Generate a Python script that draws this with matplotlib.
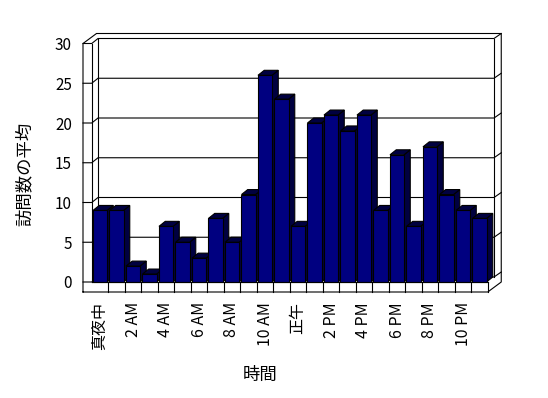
import matplotlib
matplotlib.use("Agg")
import matplotlib.pyplot as plt
from matplotlib.patches import Polygon

# ---- data ----
hours = list(range(24))
visits = [9, 9, 2, 1, 7, 5, 3, 8, 5, 11, 26, 23, 7, 20, 21, 19, 21, 9, 16, 7, 17, 11, 9, 8]
tick_pos = [0, 2, 4, 6, 8, 10, 12, 14, 16, 18, 20, 22]
tick_labels = ["真夜中", "2 AM", "4 AM", "6 AM", "8 AM", "10 AM",
               "正午", "2 PM", "4 PM", "6 PM", "8 PM", "10 PM"]
y_ticks = [0, 5, 10, 15, 20, 25, 30]
y_label = "訪問数の平均"
x_label = "時間"

plt.rcParams['font.family'] = ['Noto Sans CJK JP', 'DejaVu Sans']

W, H, DPI = 548, 398, 100
PX_X = 16.5     # pixels per category
PX_Y = 7.95     # pixels per value unit
X0_PX, Y0_PX = 100, 282
xlim = (-1.2, 24.6)
ylim = (-2.0, 31.8)

left_px = X0_PX + PX_X * xlim[0]
right_px = X0_PX + PX_X * xlim[1]
top_px = Y0_PX - PX_Y * ylim[1]
bot_px = Y0_PX - PX_Y * ylim[0]

fig = plt.figure(figsize=(W / DPI, H / DPI), dpi=DPI)
fig.patch.set_facecolor('white')
ax = fig.add_axes([left_px / W, 1 - bot_px / H,
                   (right_px - left_px) / W, (bot_px - top_px) / H])
ax.set_xlim(xlim)
ax.set_ylim(ylim)
for s in ax.spines.values():
    s.set_visible(False)

# 3D geometry (data units)
bw = 0.85
d1x, d1y = 6.25 / PX_X, 5 / PX_Y        # depth to back wall face
d2x, d2y = 13.5 / PX_X, 10 / PX_Y       # depth to outer back
xa, xb = -0.5, len(hours) - 0.5
xw = xa - 8.75 / PX_X
ymax = y_ticks[-1]
slab = -10 / PX_Y
lk = dict(color='black', lw=0.8, solid_joinstyle='miter')

# gridlines along left wall and back wall
for v in y_ticks:
    ax.plot([xw, xa, xa + d1x, xb + d1x, xb + d2x],
            [v, v, v + d1y, v + d1y, v + d2y], zorder=1, **lk)

# outer frame
ax.plot([xw, xw, xw + d2x, xb + d2x, xb + d2x, xb, xw],
        [slab, ymax, ymax + d2y, ymax + d2y, slab + d2y, slab, slab], zorder=1, **lk)
ax.plot([xa, xa], [0, ymax], zorder=1, **lk)
ax.plot([xa + d1x, xa + d1x], [d1y, ymax + d1y], zorder=1, **lk)
ax.plot([xb + d1x, xb + d1x], [d1y, ymax + d1y], zorder=1, **lk)
ax.plot([xb, xb], [0, slab], zorder=4, **lk)
for i in hours[:-1]:
    ax.plot([i + 0.5, i + 0.5], [0, slab], zorder=4, **lk)

# bars: side and top faces
dark = '#000040'
for x, v in zip(hours, visits):
    xr = x + bw / 2
    xl = x - bw / 2
    side = Polygon([(xr, 0), (xr, v), (xr + d1x, v + d1y), (xr + d1x, d1y)],
                   closed=True, facecolor=dark, edgecolor='black', lw=0.8, zorder=2)
    top = Polygon([(xl, v), (xr, v), (xr + d1x, v + d1y), (xl + d1x, v + d1y)],
                  closed=True, facecolor=dark, edgecolor='black', lw=0.8, zorder=2)
    ax.add_patch(side)
    ax.add_patch(top)

ax.bar(hours, visits, width=bw, color='#000080', edgecolor='black',
       linewidth=0.8, zorder=3)
ax.plot([xa, xb], [0, 0], zorder=4, **lk)

ax.set_yticks(y_ticks)
ax.set_yticklabels([str(t) for t in y_ticks])
ax.tick_params(axis='y', length=0, pad=5.9, labelsize=11)
ax.set_xticks(tick_pos)
ax.set_xticklabels(tick_labels, rotation=90)
ax.tick_params(axis='x', length=0, pad=2.9, labelsize=11.5)

fig.text(25 / W, 1 - 174 / H, y_label, rotation=90, ha='center', va='center', fontsize=12.5)
fig.text(260 / W, 1 - 375 / H, x_label, ha='center', va='center', fontsize=12.5)

fig.savefig('out.png', dpi=DPI)
